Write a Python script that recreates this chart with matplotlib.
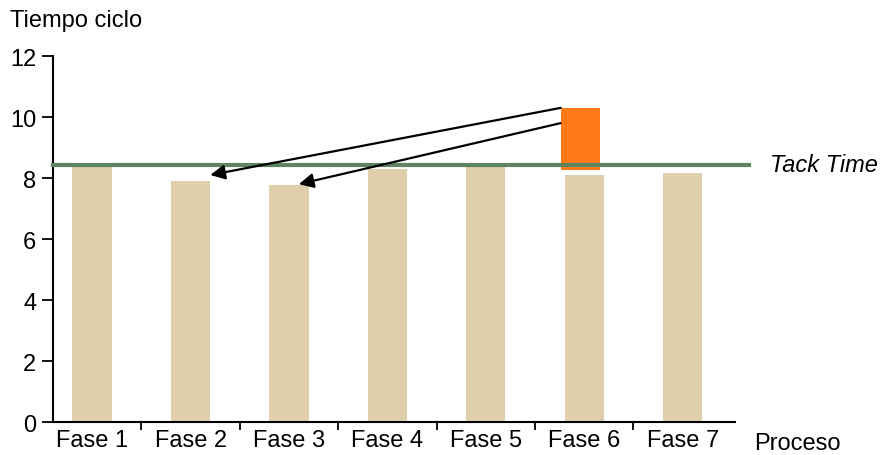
import matplotlib.pyplot as plt

# datos
fases = ['Fase 1', 'Fase 2', 'Fase 3', 'Fase 4', 'Fase 5', 'Fase 6', 'Fase 7']
tiempos = [8.4, 7.9, 7.77, 8.3, 8.36, 8.1, 8.16]
tack_time = 8.43
exceso_base = 8.26
exceso_alto = 2.04
destinos = [(1.2, 8.1), (2.1, 7.8)]

plt.rcParams['font.family'] = ['Liberation Sans', 'DejaVu Sans']
plt.rcParams['font.size'] = 17

fig = plt.figure(figsize=(8.8, 4.56), dpi=100)
ax = fig.add_axes([0.06, 0.072, 0.775, 0.803])

x = range(len(fases))
ax.bar(x, tiempos, width=0.4, color='#e0cfad', zorder=2)
ax.bar(5 - 0.04, exceso_alto, bottom=exceso_base, width=0.4, color='#ff7a17', zorder=3)

ax.axhline(tack_time, xmin=0, xmax=1.021, color='#5e8462', lw=3, zorder=4, clip_on=False)
ax.text(1.052, tack_time, 'Tack Time', style='italic', va='center', ha='left',
        transform=ax.get_yaxis_transform())

for dx, dy in destinos:
    ax.annotate('', xy=(dx, dy), xytext=(4.76, 10.3 if dx < 2 else 9.8),
                arrowprops=dict(arrowstyle='-|>', color='black', lw=1.6,
                                mutation_scale=22, shrinkA=0, shrinkB=0), zorder=5)

ax.set_ylim(0, 12)
ax.set_xlim(-0.4, 6.53)
ax.set_yticks(range(0, 13, 2))
ax.set_xticks(x)
ax.set_xticklabels(fases)
ax.tick_params(axis='x', length=0, pad=5)
ax.set_xticks([i + 0.5 for i in range(6)], minor=True)
ax.tick_params(axis='x', which='minor', length=6, width=1.3)
ax.tick_params(axis='y', length=8, width=1.3, pad=4)

for s in ['top', 'right']:
    ax.spines[s].set_visible(False)
ax.spines['left'].set_linewidth(1.5)
ax.spines['bottom'].set_linewidth(1.5)

fig.text(0.011, 0.955, 'Tiempo ciclo', ha='left', va='center')
fig.text(0.857, 0.027, 'Proceso', ha='left', va='center')

fig.savefig('out.png', dpi=100)
